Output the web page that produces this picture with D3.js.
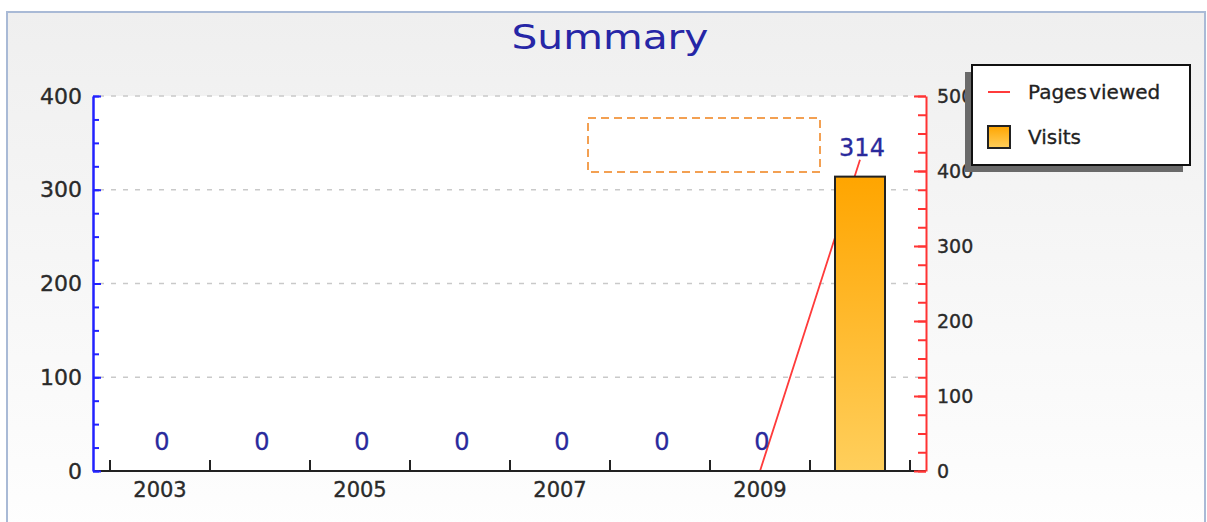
<!DOCTYPE html>
<html>
<head>
<meta charset="utf-8">
<script src="https://cdn.jsdelivr.net/npm/d3@7"></script>
<style>
  body { margin: 0; background: #fff; }
  svg { display: block; font-family: "DejaVu Sans", sans-serif; }
</style>
</head>
<body>
<svg id="chart"></svg>
<script>
// data
let years = [2003, 2004, 2005, 2006, 2007, 2008, 2009, 2010];
let visits = [0, 0, 0, 0, 0, 0, 0, 314];
let pagesViewed = [0, 0, 0, 0, 0, 0, 0, 415];
let leftTicks = [0, 100, 200, 300, 400];
let rightTicks = [0, 100, 200, 300, 400, 500];
let seriesNames = ["Pages viewed", "Visits"];

let width = 1207;
let height = 522;

let svg = d3.select("#chart")
  .attr("width", width)
  .attr("height", height)
  .attr("viewBox", `0 0 ${width} ${height}`);

let defs = svg.append("defs");

// background gradient of the frame
let bg = defs.append("linearGradient")
  .attr("id", "bgGrad")
  .attr("x1", 0).attr("y1", 0).attr("x2", 0).attr("y2", 1);
bg.append("stop").attr("offset", "0%").attr("stop-color", "#efefef");
bg.append("stop").attr("offset", "100%").attr("stop-color", "#fefefe");

// bar gradient
let barGrad = defs.append("linearGradient")
  .attr("id", "barGrad")
  .attr("x1", 0).attr("y1", 0).attr("x2", 0).attr("y2", 1);
barGrad.append("stop").attr("offset", "0%").attr("stop-color", "#ffa500");
barGrad.append("stop").attr("offset", "100%").attr("stop-color", "#ffcf5c");

// outer frame
svg.append("rect")
  .attr("x", 7).attr("y", 12)
  .attr("width", 1198).attr("height", 520)
  .attr("fill", "url(#bgGrad)")
  .attr("stroke", "#a9bad6")
  .attr("stroke-width", 2);

// title
svg.append("text")
  .attr("x", 610)
  .attr("y", 49)
  .attr("text-anchor", "middle")
  .attr("textLength", 197)
  .attr("lengthAdjust", "spacingAndGlyphs")
  .style("font-size", "33px")
  .style("fill", "#2626a6")
  .text("Summary");

// plot box
let plotLeft = 93, plotRight = 926, plotTop = 96, plotBottom = 471;

svg.append("rect")
  .attr("x", plotLeft).attr("y", plotTop)
  .attr("width", plotRight - plotLeft)
  .attr("height", plotBottom - plotTop)
  .attr("fill", "#ffffff");

// scales
let x = d3.scaleBand()
  .domain(years)
  .range([110, 910])
  .padding(0);

let yLeft = d3.scaleLinear().domain([0, 400]).range([plotBottom, plotTop]);
let yRight = d3.scaleLinear().domain([0, 500]).range([plotBottom, plotTop]);

// grid lines
svg.append("g")
  .selectAll("line")
  .data(leftTicks.filter(d => d > 0))
  .enter()
  .append("line")
  .attr("x1", plotLeft + 6)
  .attr("x2", plotRight - 8)
  .attr("y1", d => yLeft(d))
  .attr("y2", d => yLeft(d))
  .attr("stroke", "#c9c9c9")
  .attr("stroke-width", 1.5)
  .style("stroke-dasharray", "5,7");

// orange dashed box
svg.append("rect")
  .attr("x", 588).attr("y", 118)
  .attr("width", 232).attr("height", 54)
  .attr("fill", "none")
  .attr("stroke", "#f3a052")
  .attr("stroke-width", 2)
  .style("stroke-dasharray", "8,5");

// Pages viewed line (right axis)
let line = d3.line()
  .x((d, i) => x(years[i]) + x.bandwidth() / 2)
  .y(d => yRight(d));

svg.append("path")
  .datum(pagesViewed)
  .attr("d", line)
  .attr("fill", "none")
  .attr("stroke", "#ff3b3b")
  .attr("stroke-width", 1.8);

// Visits bars (left axis)
let barW = x.bandwidth() * 0.5;
svg.append("g")
  .selectAll("rect")
  .data(years.map((y, i) => ({ year: y, value: visits[i] })).filter(d => d.value > 0))
  .enter()
  .append("rect")
  .attr("x", d => x(d.year) + (x.bandwidth() - barW) / 2)
  .attr("y", d => yLeft(d.value))
  .attr("width", barW)
  .attr("height", d => plotBottom - yLeft(d.value))
  .attr("fill", "url(#barGrad)")
  .attr("stroke", "#222")
  .attr("stroke-width", 2);

// value labels
svg.append("g")
  .selectAll("text")
  .data(visits)
  .enter()
  .append("text")
  .attr("x", (d, i) => x(years[i]) + x.bandwidth() / 2 + 2)
  .attr("y", d => yLeft(d) - 21)
  .attr("text-anchor", "middle")
  .style("font-size", "24px")
  .style("fill", "#2a2a9c")
  .style("stroke", "#2a2a9c")
  .style("stroke-width", 0.3)
  .text(d => d);

// x axis line + boundary ticks
let xAxisG = svg.append("g");
xAxisG.append("line")
  .attr("x1", plotLeft).attr("x2", plotRight)
  .attr("y1", plotBottom).attr("y2", plotBottom)
  .attr("stroke", "#222")
  .attr("stroke-width", 2);

let bounds = years.map(d => x(d)).concat([x.range()[1]]);
xAxisG.selectAll("line.tick")
  .data(bounds)
  .enter()
  .append("line")
  .attr("class", "tick")
  .attr("x1", d => d).attr("x2", d => d)
  .attr("y1", plotBottom).attr("y2", plotBottom - 11)
  .attr("stroke", "#222")
  .attr("stroke-width", 2);

function styleLabels(g, size) {
  g.selectAll("text")
    .style("font-size", size)
    .style("font-family", "DejaVu Sans, sans-serif")
    .style("fill", "#2a2a2a")
    .style("stroke", "#2a2a2a")
    .style("stroke-width", 0.35);
}

let xLabels = svg.append("g")
  .attr("transform", `translate(0,${plotBottom})`)
  .call(d3.axisBottom(x).tickSize(0).tickPadding(11)
    .tickFormat(d => (d % 2 === 1 && d < 2010) ? d : ""));
xLabels.select(".domain").remove();
styleLabels(xLabels, "21px");

// left axis (blue)
let leftMinor = svg.append("g")
  .attr("transform", `translate(${plotLeft},0)`)
  .call(d3.axisLeft(yLeft).tickValues(d3.range(0, 401, 25)).tickSize(-6).tickSizeOuter(0).tickFormat(""));
leftMinor.selectAll("line").attr("stroke", "#2222ff").attr("stroke-width", 2);
leftMinor.select(".domain").attr("stroke", "#2222ff").attr("stroke-width", 2.5);

let leftAxis = svg.append("g")
  .attr("transform", `translate(${plotLeft},0)`)
  .call(d3.axisLeft(yLeft).tickValues(leftTicks).tickSize(-8).tickSizeOuter(0).tickPadding(11));
leftAxis.select(".domain").remove();
leftAxis.selectAll("line").attr("stroke", "#2222ff").attr("stroke-width", 2);
styleLabels(leftAxis, "22px");

// right axis (red)
let rightMinor = svg.append("g")
  .attr("transform", `translate(${plotRight},0)`)
  .call(d3.axisRight(yRight).tickValues(d3.range(0, 501, 25)).tickSize(-8).tickSizeOuter(0).tickFormat(""));
rightMinor.selectAll("line").attr("stroke", "#ff3333").attr("stroke-width", 2);
rightMinor.select(".domain").attr("stroke", "#ff3333").attr("stroke-width", 2);

let rightAxis = svg.append("g")
  .attr("transform", `translate(${plotRight},0)`)
  .call(d3.axisRight(yRight).tickValues(rightTicks).tickSize(-12).tickSizeOuter(0).tickPadding(11));
rightAxis.select(".domain").remove();
rightAxis.selectAll("line").attr("stroke", "#ff3333").attr("stroke-width", 2);
styleLabels(rightAxis, "19px");

// legend
let legend = svg.append("g").attr("transform", "translate(972,65)");
legend.append("rect")
  .attr("x", -7).attr("y", 7)
  .attr("width", 218).attr("height", 100)
  .attr("fill", "#6a6a6a");
legend.append("rect")
  .attr("x", 0).attr("y", 0)
  .attr("width", 218).attr("height", 100)
  .attr("fill", "#ffffff")
  .attr("stroke", "#111")
  .attr("stroke-width", 2);

legend.append("line")
  .attr("x1", 16).attr("x2", 38)
  .attr("y1", 27).attr("y2", 27)
  .attr("stroke", "#ff3b3b")
  .attr("stroke-width", 2);
legend.append("rect")
  .attr("x", 16).attr("y", 61)
  .attr("width", 22).attr("height", 22)
  .attr("fill", "url(#barGrad)")
  .attr("stroke", "#222")
  .attr("stroke-width", 2);

legend.selectAll("text.label")
  .data(seriesNames)
  .enter()
  .append("text")
  .attr("class", "label")
  .attr("x", 56)
  .attr("y", (d, i) => 27 + i * 45)
  .attr("dy", "0.35em")
  .style("font-size", "20px")
  .style("word-spacing", "-4px")
  .style("fill", "#222")
  .style("stroke", "#222")
  .style("stroke-width", 0.3)
  .text(d => d);
</script>
</body>
</html>
